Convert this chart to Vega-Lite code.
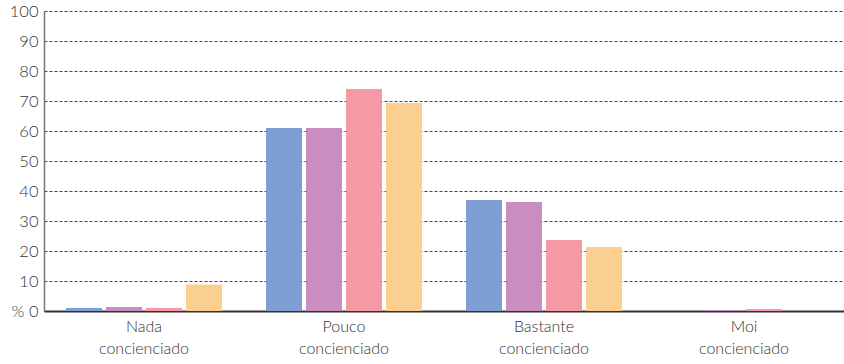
{
  "$schema": "https://vega.github.io/schema/vega-lite/v6.json",
  "width": 800,
  "height": 300,
  "autosize": {"type": "none"},
  "padding": {"left": 44, "top": 11, "right": 0, "bottom": 53},
  "background": "white",
  "config": {
    "view": {"stroke": null},
    "font": "Lato"
  },
  "data": {
    "values": [
      {"cat": "Nada concienciado", "serie": "A", "v": 1.0},
      {"cat": "Nada concienciado", "serie": "B", "v": 1.3},
      {"cat": "Nada concienciado", "serie": "C", "v": 1.0},
      {"cat": "Nada concienciado", "serie": "D", "v": 8.8},
      {"cat": "Pouco concienciado", "serie": "A", "v": 61.0},
      {"cat": "Pouco concienciado", "serie": "B", "v": 61.0},
      {"cat": "Pouco concienciado", "serie": "C", "v": 74.0},
      {"cat": "Pouco concienciado", "serie": "D", "v": 69.3},
      {"cat": "Bastante concienciado", "serie": "A", "v": 37.0},
      {"cat": "Bastante concienciado", "serie": "B", "v": 36.3},
      {"cat": "Bastante concienciado", "serie": "C", "v": 23.7},
      {"cat": "Bastante concienciado", "serie": "D", "v": 21.3},
      {"cat": "Moi concienciado", "serie": "A", "v": 0.0},
      {"cat": "Moi concienciado", "serie": "B", "v": 0.3},
      {"cat": "Moi concienciado", "serie": "C", "v": 0.7},
      {"cat": "Moi concienciado", "serie": "D", "v": 0.0}
    ]
  },
  "mark": {"type": "bar"},
  "encoding": {
    "x": {
      "field": "cat",
      "type": "nominal",
      "sort": null,
      "scale": {"paddingInner": 0.2, "paddingOuter": 0.1},
      "axis": {
        "title": null,
        "labelAngle": 0,
        "labelExpr": "split(datum.label, ' ')",
        "labelFontSize": 16,
        "labelFontWeight": 300,
        "labelColor": "#333333",
        "labelLineHeight": 22,
        "labelPadding": 7,
        "ticks": false,
        "domainColor": "#333333",
        "domainWidth": 2
      }
    },
    "xOffset": {
      "field": "serie",
      "type": "nominal",
      "scale": {"paddingInner": 0.1, "paddingOuter": 0.05}
    },
    "y": {
      "field": "v",
      "type": "quantitative",
      "scale": {"domain": [0, 100], "nice": false},
      "axis": {
        "title": null,
        "values": [0, 10, 20, 30, 40, 50, 60, 70, 80, 90, 100],
        "labelExpr": "datum.value == 0 ? '%   0' : datum.label",
        "labelFontSize": 16.5,
        "labelFontWeight": 300,
        "labelColor": "#333333",
        "labelPadding": 6,
        "ticks": false,
        "domainColor": "#777777",
        "domainWidth": 1.5,
        "grid": true,
        "gridColor": "#333333",
        "gridDash": [3, 2],
        "gridWidth": 1,
        "gridOpacity": 0.9
      }
    },
    "color": {
      "field": "serie",
      "type": "nominal",
      "legend": null,
      "scale": {"domain": ["A", "B", "C", "D"], "range": ["#7e9ed3", "#c98dbf", "#f59aa4", "#fbcf8f"]}
    }
  }
}
